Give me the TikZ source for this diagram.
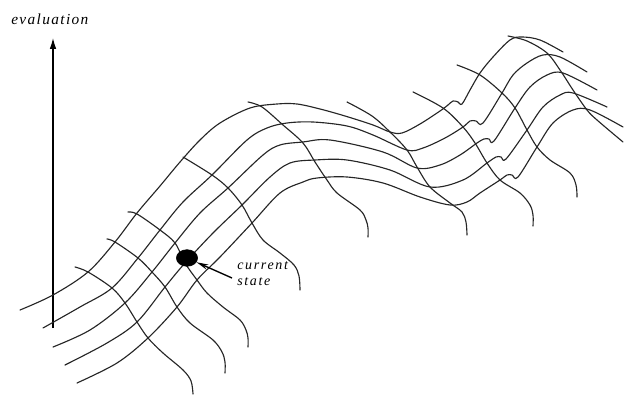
\documentclass[tikz,border=0pt]{standalone}
\usepackage{fontspec}
\setmainfont{Liberation Serif}
\usetikzlibrary{arrows.meta,shapes.geometric}
\tikzset{
  mesh/.style={line width=0.85pt, draw=black!85, line join=round, line cap=round},
  lbltext/.style={inner sep=0pt, font=\itshape\addfontfeatures{LetterSpace=12}\fontsize{10.5}{12}\selectfont},
}
\begin{document}
\begin{tikzpicture}[x=0.75pt,y=-0.75pt]
\useasboundingbox (0,0) rectangle (624,395);

% axis
\coordinate (axb) at (53,328);
\coordinate (axt) at (53,37);
\draw[line width=1.5pt, -{Latex[length=9pt,width=5pt]}] (axb) -- (axt);
\node[lbltext, font=\itshape\addfontfeatures{LetterSpace=9}\fontsize{11.5}{13}\selectfont, anchor=base west] (evl) at (11,25) {evaluation};

% longitudinal curves (back to front)
\draw[mesh] plot[smooth, tension=0.55] coordinates {(20,310) (53,295) (88,272) (115,242) (137,213) (160,186) (180,162) (200,140) (220,123) (250,108) (277,104) (297,104) (320,109) (345,116) (373,125) (390,132) (402,133) (420,124) (440,111) (448,105) (453,101) (458,102) (462,104) (470,90) (480,73) (493,57) (510,40) (522,37) (540,40) (563,52)};
\draw[mesh] plot[smooth, tension=0.55] coordinates {(43,328) (80,307) (112,288) (138,258) (160,230) (183,202) (212,175) (247,140) (267,128) (287,123) (313,122) (347,126) (373,135) (407,150) (423,148) (445,138) (463,127) (470,121) (476,121) (483,123) (502,93) (513,75) (527,63) (543,55) (560,57) (587,72)};
\draw[mesh] plot[smooth, tension=0.55] coordinates {(53,347) (90,330) (125,303) (152,272) (175,243) (200,213) (228,188) (263,155) (280,145) (303,142) (330,140) (383,152) (417,168) (440,165) (460,155) (477,143) (484,139) (489,139) (494,141) (515,108) (530,87) (547,75) (563,73) (597,90)};
\draw[mesh] plot[smooth, tension=0.55] coordinates {(65,365) (107,343) (137,322) (165,287) (185,263) (213,233) (242,205) (270,177) (290,163) (315,160) (347,160) (390,170) (430,187) (463,180) (487,163) (496,157) (501,157) (506,159) (527,130) (543,107) (560,95) (573,93) (607,107)};
\draw[mesh] plot[smooth, tension=0.55] coordinates {(77,383) (117,363) (148,338) (177,307) (197,280) (220,257) (252,223) (280,193) (303,182) (317,178) (347,177) (383,183) (420,197) (450,205) (467,202) (480,193) (500,180) (507,175) (512,175) (518,177) (537,147) (553,123) (573,110) (590,110) (623,127)};

% cross curves
\draw[mesh] plot[smooth, tension=0.55] coordinates {(75,267) (88,272) (112,288) (125,303) (137,322) (148,338) (163,353) (183,370) (191,381) (193,394)};
\draw[mesh] plot[smooth, tension=0.55] coordinates {(107,239) (115,242) (138,258) (152,272) (165,287) (177,307) (190,323) (213,340) (222,352) (225,362) (225,373)};
\draw[mesh] plot[smooth, tension=0.55] coordinates {(128,212) (137,214) (160,230) (175,243) (185,263) (197,280) (207,293) (223,307) (240,320) (246,330) (248,338) (248,347)};
\draw[mesh] plot[smooth, tension=0.55] coordinates {(183,157) (212,175) (228,188) (242,205) (252,223) (263,240) (280,253) (294,265) (299,276) (300,290)};
\draw[mesh] plot[smooth, tension=0.55] coordinates {(248,102) (262,107) (283,125) (303,143) (315,162) (327,180) (337,193) (360,210) (366,220) (368,228) (368,237)};
\draw[mesh] plot[smooth, tension=0.55] coordinates {(347,102) (372,116) (390,132) (407,150) (417,167) (430,187) (450,203) (462,212) (466,222) (467,235)};
\draw[mesh] plot[smooth, tension=0.55] coordinates {(413,92) (443,108) (463,127) (475,143) (487,163) (500,180) (520,193) (530,205) (533,215) (533,226)};
\draw[mesh] plot[smooth, tension=0.55] coordinates {(457,65) (480,75) (502,93) (515,108) (527,130) (537,147) (550,160) (570,173) (576,185) (577,197)};
\draw[mesh] plot[smooth, tension=0.55] coordinates {(508,36) (527,41) (547,53) (560,70) (573,90) (587,110) (597,120) (623,142)};

% current state
\node[ellipse, fill=black, draw=black, minimum width=16pt, minimum height=12.5pt, inner sep=0pt] (cs) at (187,258) {};
\node[lbltext, anchor=base west, align=left] (lbl) at (237,285) {current\\state};
\coordinate (lblarrow) at (232,278);
\draw[line width=1pt, -{Stealth[length=9pt,width=4pt]}] (lblarrow) -- (cs);

\end{tikzpicture}
\end{document}
